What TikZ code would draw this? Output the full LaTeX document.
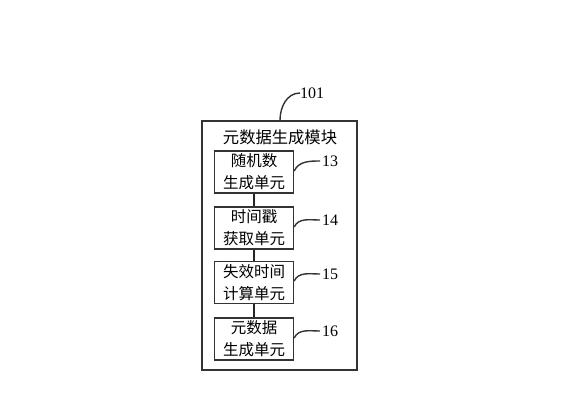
\documentclass[tikz,border=0pt]{standalone}
\usepackage{fontspec}
\newfontfamily\cjk{Noto Sans CJK SC}
\setmainfont{Liberation Serif}
\begin{document}
\begin{tikzpicture}[x=1pt,y=-1pt,
  frame/.style={draw=black!80,line width=1.4pt},
  unitbox/.style={draw=black!80,line width=1.4pt,minimum width=79pt,minimum height=42pt,inner sep=0pt,align=center,font=\cjk\fontsize{15.5}{22}\selectfont},
  lead/.style={draw=black!80,line width=1.4pt},
  link/.style={draw=black!85,line width=2pt},
  num/.style={inner sep=0pt,anchor=west,font=\fontsize{16}{16}\selectfont}]
\useasboundingbox (0,0) rectangle (583,400);
\node[frame,minimum width=155pt,minimum height=249pt,inner sep=0pt] (outer) at (279.5,245.5) {};
\node[font=\cjk\fontsize{16.3}{16}\selectfont] (title) at (280,137) {元数据生成模块};
\node[unitbox] (u1) at (254,172) {随机数\\生成单元};
\node[unitbox] (u2) at (254,228) {时间戳\\获取单元};
\node[unitbox] (u3) at (254,282.5) {失效时间\\计算单元};
\node[unitbox] (u4) at (254,339) {元数据\\生成单元};
\draw[link] (u1.south) -- (u2.north);
\draw[link] (u2.south) -- (u3.north);
\draw[link] (u3.south) -- (u4.north);
\node[num] (n101) at (300,93) {101};
\node[num] (n13) at (322,161) {13};
\node[num] (n14) at (322,220) {14};
\node[num] (n15) at (322,274) {15};
\node[num] (n16) at (322,331) {16};
\draw[lead] (outer.north -| 280,0) to[out=90,in=180] (n101.west);
\draw[lead] (u1.east |- 0,171) to[out=65,in=180] ([xshift=-2pt]n13.west);
\draw[lead] (u2.east |- 0,227) to[out=65,in=180] ([xshift=-2pt]n14.west);
\draw[lead] (u3.east |- 0,281) to[out=65,in=180] ([xshift=-2pt]n15.west);
\draw[lead] (u4.east |- 0,338) to[out=65,in=180] ([xshift=-2pt]n16.west);
\end{tikzpicture}
\end{document}
